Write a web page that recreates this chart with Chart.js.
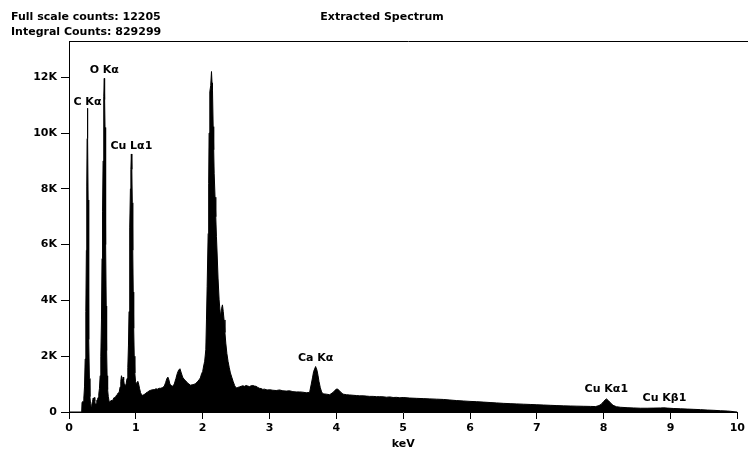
<!DOCTYPE html>
<html>
<head>
<meta charset="utf-8">
<title>Extracted Spectrum</title>
<script src="https://cdn.jsdelivr.net/npm/chart.js@4/dist/chart.umd.min.js"></script>
<style>
  html, body { margin: 0; padding: 0; background: #fff; }
  canvas { display: block; }
</style>
</head>
<body>
<canvas id="spectrum" width="748" height="451"></canvas>
<script>
"use strict";

// spectrum: energy (keV) and counts
var energyKeV = [
  0.000, 0.190, 0.195, 0.210, 0.222, 0.232, 0.242, 0.252, 0.260, 0.266,
  0.271, 0.276, 0.281, 0.286, 0.292, 0.298, 0.305, 0.313, 0.322, 0.332,
  0.342, 0.352, 0.362, 0.370, 0.378, 0.386, 0.396, 0.406, 0.416, 0.426,
  0.436, 0.446, 0.456, 0.466, 0.476, 0.486, 0.494, 0.502, 0.510, 0.517,
  0.523, 0.528, 0.533, 0.539, 0.545, 0.551, 0.557, 0.563, 0.570, 0.578,
  0.588, 0.600, 0.615, 0.630, 0.645, 0.660, 0.675, 0.690, 0.705, 0.720,
  0.735, 0.750, 0.765, 0.775, 0.785, 0.795, 0.803, 0.810, 0.818, 0.826,
  0.840, 0.855, 0.868, 0.880, 0.890, 0.898, 0.905, 0.912, 0.919, 0.926,
  0.933, 0.940, 0.947, 0.954, 0.961, 0.968, 0.976, 0.985, 0.995, 1.005,
  1.015, 1.030, 1.042, 1.055, 1.070, 1.085, 1.100, 1.120, 1.140, 1.160,
  1.180, 1.200, 1.225, 1.250, 1.275, 1.300, 1.325, 1.350, 1.375, 1.400,
  1.425, 1.445, 1.465, 1.480, 1.495, 1.510, 1.530, 1.550, 1.575, 1.600,
  1.620, 1.640, 1.660, 1.680, 1.700, 1.720, 1.745, 1.770, 1.795, 1.820,
  1.845, 1.870, 1.895, 1.920, 1.945, 1.965, 1.985, 2.000, 2.015, 2.030,
  2.047, 2.057, 2.067, 2.082, 2.090, 2.096, 2.107, 2.120, 2.132, 2.140,
  2.147, 2.157, 2.165, 2.172, 2.185, 2.196, 2.206, 2.216, 2.230, 2.246,
  2.266, 2.282, 2.296, 2.308, 2.320, 2.333, 2.346, 2.362, 2.380, 2.397,
  2.415, 2.435, 2.455, 2.478, 2.500, 2.525, 2.550, 2.575, 2.600, 2.625,
  2.650, 2.675, 2.700, 2.725, 2.750, 2.775, 2.800, 2.825, 2.850, 2.875,
  2.900, 2.925, 2.950, 2.975, 3.000, 3.050, 3.100, 3.150, 3.200, 3.250,
  3.300, 3.350, 3.400, 3.450, 3.500, 3.550, 3.600, 3.625, 3.645, 3.660,
  3.690, 3.710, 3.725, 3.740, 3.760, 3.780, 3.800, 3.850, 3.900, 3.950,
  3.980, 4.010, 4.040, 4.070, 4.100, 4.150, 4.200, 4.250, 4.300, 4.350,
  4.400, 4.450, 4.500, 4.550, 4.600, 4.650, 4.700, 4.750, 4.800, 4.850,
  4.900, 4.950, 5.000, 5.100, 5.200, 5.300, 5.400, 5.500, 5.600, 5.700,
  5.800, 5.900, 6.000, 6.100, 6.200, 6.300, 6.400, 6.500, 6.600, 6.700,
  6.800, 6.900, 7.000, 7.100, 7.200, 7.300, 7.400, 7.500, 7.600, 7.700,
  7.800, 7.880, 7.930, 7.965, 8.000, 8.040, 8.070, 8.100, 8.140, 8.190,
  8.250, 8.350, 8.450, 8.550, 8.650, 8.750, 8.850, 8.900, 8.950, 9.050,
  9.150, 9.250, 9.350, 9.450, 9.550, 9.650, 9.750, 9.850, 9.900, 9.950,
  10.000
];

var counts = [
  0, 0, 350, 380, 500, 900, 1900, 3600, 5800, 8100,
  9800, 10890, 9800, 7600, 5000, 2600, 1200, 550, 300, 200,
  280, 380, 500, 420, 520, 380, 250, 300, 420, 450,
  520, 650, 850, 1300, 2000, 3300, 5500, 7200, 9000, 10400,
  11300, 11960, 11200, 10200, 8300, 6000, 3800, 2200, 1300, 800,
  550, 380, 350, 420, 400, 450, 520, 500, 580, 620,
  680, 700, 900, 1100, 1300, 1180, 1000, 1250, 1150, 1000,
  950, 1000, 1200, 1600, 2400, 3600, 5000, 6600, 8000, 8700,
  9250, 8700, 7500, 5800, 4300, 3000, 2000, 1400, 1100, 1000,
  1050, 1100, 1000, 850, 700, 620, 600, 620, 650, 700,
  720, 760, 780, 800, 800, 830, 820, 850, 850, 880,
  920, 1050, 1200, 1250, 1150, 1000, 950, 920, 1000, 1200,
  1380, 1500, 1550, 1400, 1250, 1180, 1120, 1050, 1000, 960,
  980, 990, 1020, 1080, 1150, 1220, 1380, 1450, 1650, 1820,
  2230, 3300, 4500, 6400, 8200, 10000, 11480, 11700, 12205, 11800,
  11540, 10230, 9400, 8560, 7700, 7000, 6300, 5700, 4800, 4020,
  3420, 3700, 3840, 3600, 3300, 2850, 2470, 2100, 1810, 1600,
  1400, 1250, 1100, 950, 860, 880, 900, 920, 940, 920,
  950, 930, 910, 940, 950, 930, 920, 880, 850, 840,
  810, 820, 800, 790, 800, 780, 770, 790, 760, 750,
  760, 730, 720, 720, 710, 690, 700, 1000, 1250, 1450,
  1630, 1500, 1320, 1100, 870, 720, 650, 640, 620, 700,
  780, 830, 780, 700, 640, 620, 610, 600, 590, 580,
  580, 570, 560, 560, 550, 550, 545, 530, 540, 520,
  525, 510, 520, 500, 490, 480, 470, 460, 450, 430,
  410, 395, 380, 370, 355, 340, 325, 310, 300, 290,
  280, 270, 260, 250, 240, 230, 220, 215, 210, 205,
  200, 195, 230, 280, 380, 470, 410, 330, 240, 190,
  170, 155, 145, 135, 135, 140, 145, 150, 140, 125,
  115, 105, 95, 85, 70, 60, 45, 35, 25, 10,
  0
];

var xTickValues = [0, 1, 2, 3, 4, 5, 6, 7, 8, 9, 10];
var yTickValues = [0, 2000, 4000, 6000, 8000, 10000, 12000];

// peak labels: name, energy, and height at which the text sits
var peakNames = ["C K\u03b1", "O K\u03b1", "Cu L\u03b11", "Ca K\u03b1", "Cu K\u03b11", "Cu K\u03b21"];
var peakKeV = [0.276, 0.528, 0.933, 3.690, 8.040, 8.910];
var peakLabelCounts = [11120, 12260, 9530, 1920, 810, 490];

var headerLeft = ["Full scale counts: 12205", "Integral Counts: 829299"];
var titleText = "Extracted Spectrum";

var FONT = "bold 11px 'DejaVu Sans', Verdana, sans-serif";

function formatCounts(value) {
  return value === 0 ? "0" : (value / 1000) + "K";
}

var spectrumPoints = energyKeV.map(function (e, i) {
  return { x: e, y: counts[i] };
});

var textPlugin = {
  id: "spectrumText",
  afterDraw: function (chart) {
    var ctx = chart.ctx;
    var area = chart.chartArea;
    var xs = chart.scales.x;
    var ys = chart.scales.y;
    var i;

    ctx.save();
    // frame line along the top
    ctx.strokeStyle = "#000";
    ctx.lineWidth = 1;
    ctx.beginPath();
    ctx.moveTo(area.left, Math.round(area.top) + 0.5);
    ctx.lineTo(chart.width, Math.round(area.top) + 0.5);
    ctx.stroke();

    ctx.fillStyle = "#000";
    ctx.font = FONT;
    ctx.textBaseline = "middle";
    ctx.textAlign = "left";
    for (i = 0; i < headerLeft.length; i++) {
      ctx.fillText(headerLeft[i], 11, 17 + i * 15);
    }
    ctx.textAlign = "center";
    ctx.fillText(titleText, 382, 17);

    for (i = 0; i < peakNames.length; i++) {
      ctx.fillText(peakNames[i],
        xs.getPixelForValue(peakKeV[i]),
        ys.getPixelForValue(peakLabelCounts[i]));
    }
    ctx.restore();
  }
};

new Chart(document.getElementById("spectrum"), {
  type: "line",
  data: {
    datasets: [{
      data: spectrumPoints,
      borderColor: "#000",
      backgroundColor: "#000",
      borderWidth: 1,
      pointRadius: 0,
      tension: 0,
      fill: "origin"
    }]
  },
  options: {
    responsive: false,
    animation: false,
    devicePixelRatio: 1,
    layout: { padding: { top: 41, right: 10, left: 0, bottom: 0 } },
    plugins: {
      legend: { display: false },
      tooltip: { enabled: false },
      title: { display: false }
    },
    scales: {
      x: {
        type: "linear",
        min: 0,
        max: 10,
        afterFit: function (scale) { scale.height = 39; },
        afterBuildTicks: function (scale) {
          scale.ticks = xTickValues.map(function (v) { return { value: v }; });
        },
        border: { display: true, color: "#000", width: 1 },
        grid: { display: true, drawOnChartArea: false, drawTicks: true, tickLength: 7, color: "#000" },
        ticks: {
          color: "#000",
          font: { family: "'DejaVu Sans', Verdana, sans-serif", size: 11, weight: "bold" },
          padding: 3,
          maxRotation: 0
        },
        title: {
          display: true,
          text: "keV",
          color: "#000",
          font: { family: "'DejaVu Sans', Verdana, sans-serif", size: 11, weight: "bold" },
          padding: { top: 0, bottom: 0 }
        }
      },
      y: {
        type: "linear",
        min: 0,
        max: 13300,
        afterFit: function (scale) { scale.width = 69; },
        afterBuildTicks: function (scale) {
          scale.ticks = yTickValues.map(function (v) { return { value: v }; });
        },
        border: { display: true, color: "#000", width: 1 },
        grid: { display: true, drawOnChartArea: false, drawTicks: true, tickLength: 8, color: "#000" },
        ticks: {
          color: "#000",
          font: { family: "'DejaVu Sans', Verdana, sans-serif", size: 11, weight: "bold" },
          padding: 4,
          callback: function (value) { return formatCounts(value); }
        }
      }
    }
  },
  plugins: [textPlugin]
});
</script>
</body>
</html>
